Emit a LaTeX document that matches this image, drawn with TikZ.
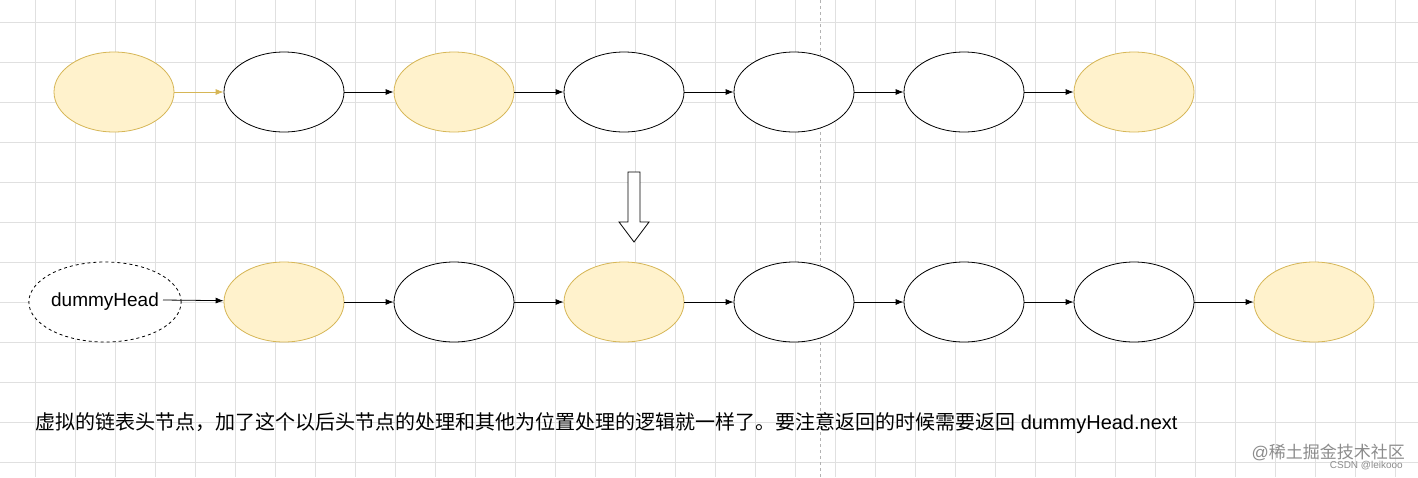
\documentclass[tikz,border=0pt]{standalone}
\usepackage{fontspec}
\usetikzlibrary{shapes.geometric,arrows.meta}
\setmainfont{Liberation Sans}
\newfontfamily\cjk{Noto Sans CJK SC}
\definecolor{yfill}{HTML}{FFF2CC}
\definecolor{ydraw}{HTML}{D6B656}
\begin{document}
\begin{tikzpicture}[x=1pt,y=-1pt,
  nd/.style={draw=black,fill=white,ellipse,minimum width=120pt,minimum height=80pt,inner sep=0pt,line width=0.8pt},
  yel/.style={nd,draw=ydraw,fill=yfill},
  arr/.style={-{Latex[length=8pt,width=6pt]},line width=0.8pt}]
\useasboundingbox (0,0) rectangle (1418,477);
\fill[white] (0,0) rectangle (1418,477);
\foreach \x in {35,75,...,1418} \draw[black!12,line width=0.8pt] (\x,0) -- (\x,477);
\foreach \y in {22,62,...,477} \draw[black!12,line width=0.8pt] (0,\y) -- (1418,\y);
\draw[black!30,dashed,line width=0.8pt] (820,0) -- (820,477);
% top row
\node[yel] (t1) at (114,92) {};
\node[nd] (t2) at (284,92) {};
\node[yel] (t3) at (454,92) {};
\node[nd] (t4) at (624,92) {};
\node[nd] (t5) at (794,92) {};
\node[nd] (t6) at (964,92) {};
\node[yel] (t7) at (1134,92) {};
\draw[arr,draw=ydraw] (t1) -- (t2);
\foreach \a/\b in {t2/t3,t3/t4,t4/t5,t5/t6,t6/t7} \draw[arr] (\a) -- (\b);
% hollow arrow
\draw[line width=0.8pt,fill=white] (628,172) -- (640,172) -- (640,222) -- (649,222) -- (634,242) -- (619,222) -- (628,222) -- cycle;
% bottom row
\node[nd,dashed,minimum width=118pt,minimum height=80pt] (d) at (105,302) {\fontsize{19pt}{22pt}\selectfont dummyHead};
\node[yel] (b1) at (284,302) {};
\node[nd] (b2) at (454,302) {};
\node[yel] (b3) at (624,302) {};
\node[nd] (b4) at (794,302) {};
\node[nd] (b5) at (964,302) {};
\node[nd] (b6) at (1134,302) {};
\node[yel] (b7) at (1314,302) {};
\draw[arr] (163,300) .. controls (190,300) .. (b1);
\foreach \a/\b in {b1/b2,b2/b3,b3/b4,b4/b5,b5/b6,b6/b7} \draw[arr] (\a) -- (\b);
\node[anchor=west,inner sep=0pt] (txt) at (35,423) {\fontsize{20pt}{23pt}\selectfont{\cjk 虚拟的链表头节点，加了这个以后头节点的处理和其他为位置处理的逻辑就一样了。要注意返回的时候需要返回} dummyHead.next};
\node[anchor=east,inner sep=0pt,text=black!45] (wm) at (1405,452) {\fontsize{17pt}{20pt}\selectfont @{\cjk 稀土掘金技术社区}};
\node[anchor=east,inner sep=0pt,text=black!45] (wm2) at (1403,466) {\fontsize{10pt}{12pt}\selectfont CSDN @leikooo};
\end{tikzpicture}
\end{document}
